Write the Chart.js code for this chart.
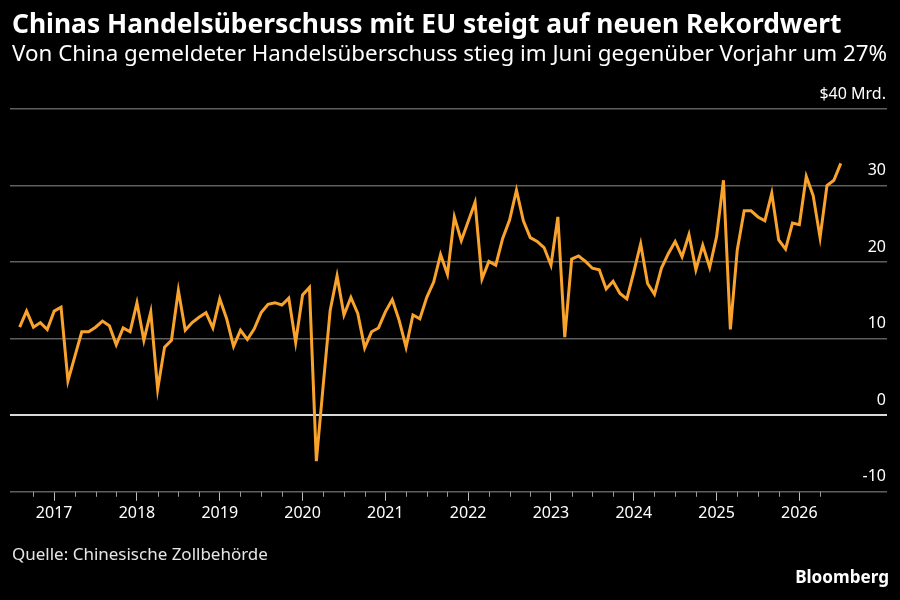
<!DOCTYPE html>
<html>
<head>
<meta charset="utf-8">
<script src="https://cdn.jsdelivr.net/npm/chart.js@4.4.1/dist/chart.umd.min.js"></script>
<style>
    html, body { margin: 0; padding: 0; background: #000; }
</style>
</head>
<body>
<canvas id="myChart" width="900" height="600"></canvas>
<script>
// data block
const titleText = 'Chinas Handelsüberschuss mit EU steigt auf neuen Rekordwert';
const subtitleText = 'Von China gemeldeter Handelsüberschuss stieg im Juni gegenüber Vorjahr um 27%';
const sourceText = 'Quelle: Chinesische Zollbehörde';
const brandText = 'Bloomberg';

// monthly data, first month and count of months
const firstMonth = '2016-07';
const yearTicks = [2017, 2018, 2019, 2020, 2021, 2022, 2023, 2024, 2025, 2026];
const yTicks = [-10, 0, 10, 20, 30, 40];

// trade surplus in billion USD, Jul 2016 .. Jun 2026
const surplus = [
    11.5, 13.6, 11.5, 12.1, 11.2, 13.6,
    14.1, 4.5, 7.7, 10.9, 10.9, 11.5, 12.3, 11.7, 9.2, 11.4, 10.9, 14.7,
    9.8, 13.5, 3.4, 8.9, 9.8, 16.3, 11.1, 12.1, 12.8, 13.4, 11.4, 15.2,
    12.6, 9.0, 11.1, 9.9, 11.3, 13.4, 14.5, 14.7, 14.4, 15.3, 9.5, 15.7,
    16.7, -6.0, 4.0, 13.7, 18.2, 13.1, 15.4, 13.3, 8.8, 10.9, 11.4, 13.5,
    15.1, 12.4, 8.9, 13.1, 12.6, 15.4, 17.4, 21.0, 18.4, 25.9, 22.8, 25.3,
    27.8, 17.8, 20.1, 19.6, 23.1, 25.5, 29.4, 25.4, 23.2, 22.7, 21.9, 19.6,
    25.9, 10.2, 20.4, 20.8, 20.1, 19.2, 19.0, 16.5, 17.5, 15.9, 15.2, 18.7,
    22.4, 17.2, 15.8, 19.2, 21.1, 22.7, 20.7, 23.6, 19.0, 22.2, 19.3, 23.3,
    30.7, 11.2, 21.6, 26.7, 26.7, 25.9, 25.4, 29.0, 22.9, 21.7, 25.1, 24.9,
    31.2, 28.7, 23.2, 30.0, 30.7, 32.9
];

// month labels 'YYYY-MM'
const months = [];
{
    let [y, m] = firstMonth.split('-').map(Number);
    for (let i = 0; i < surplus.length; i++) {
        months.push(y + '-' + String(m).padStart(2, '0'));
        m++;
        if (m > 12) { m = 1; y++; }
    }
}

// x = months since Jan 2017, value plotted at month end
const monthPos = label => {
    const [y, m] = label.split('-').map(Number);
    return (y - 2017) * 12 + m;
};

const points = months.map((label, i) => ({ x: monthPos(label), y: surplus[i] }));

const fontFamily = "'Noto Sans', 'DejaVu Sans', sans-serif";

// fit a font size so text spans a given width
const fitFont = (ctx, text, weight, width) => {
    ctx.font = weight + ' 100px ' + fontFamily;
    const size = 100 * width / ctx.measureText(text).width;
    return weight + ' ' + size.toFixed(2) + 'px ' + fontFamily;
};

// titles, footer and minor ticks
const decorations = {
    id: 'decorations',
    afterDraw(chart) {
        const ctx = chart.ctx;
        ctx.save();
        ctx.fillStyle = '#ffffff';
        ctx.textBaseline = 'alphabetic';
        ctx.textAlign = 'left';
        ctx.font = fitFont(ctx, titleText, 'bold', 830);
        ctx.fillText(titleText, 12, 33);
        ctx.font = fitFont(ctx, subtitleText, 'normal', 875);
        ctx.fillText(subtitleText, 12, 61);
        ctx.fillStyle = '#e6e6e6';
        ctx.font = fitFont(ctx, sourceText, 'normal', 256);
        ctx.fillText(sourceText, 12, 560);
        ctx.fillStyle = '#ffffff';
        ctx.textAlign = 'right';
        ctx.font = fitFont(ctx, brandText, 'bold', 94);
        ctx.fillText(brandText, 889, 583);

        // quarterly minor ticks
        const xs = chart.scales.x;
        const bottom = chart.chartArea.bottom;
        ctx.strokeStyle = '#9a9a9a';
        ctx.lineWidth = 1;
        for (let m = -3; m <= 111; m += 3) {
            if (m % 12 === 0) continue;
            const px = Math.round(xs.getPixelForValue(m)) + 0.5;
            ctx.beginPath();
            ctx.moveTo(px, bottom);
            ctx.lineTo(px, bottom + 5);
            ctx.stroke();
        }
        ctx.restore();
    }
};

// config block
const config = {
    type: 'line',
    data: {
        datasets: [{
            label: 'Handelsüberschuss',
            data: points,
            borderColor: '#f9a32c',
            borderWidth: 3,
            pointRadius: 0,
            tension: 0,
            borderJoinStyle: 'miter'
        }]
    },
    options: {
        responsive: false,
        animation: false,
        devicePixelRatio: 1,
        layout: {
            padding: { left: 10, right: 13, top: 109, bottom: 74 }
        },
        plugins: {
            legend: { display: false },
            tooltip: { enabled: false }
        },
        scales: {
            x: {
                type: 'linear',
                min: -6.4,
                max: 120.7,
                afterBuildTicks: scale => {
                    scale.ticks = yearTicks.map(y => ({ value: (y - 2017) * 12 }));
                },
                grid: {
                    drawOnChartArea: false,
                    drawTicks: true,
                    tickLength: 9,
                    color: '#bdbdbd'
                },
                border: { display: false },
                ticks: {
                    color: '#ffffff',
                    padding: 3,
                    maxRotation: 0,
                    autoSkip: false,
                    font: { family: fontFamily, size: 16 },
                    callback: v => String(2017 + v / 12)
                }
            },
            y: {
                position: 'right',
                min: -10,
                max: 40,
                afterBuildTicks: scale => {
                    scale.ticks = yTicks.map(v => ({ value: v }));
                },
                grid: {
                    drawTicks: false,
                    color: ctx => ctx.tick && ctx.tick.value === 0 ? '#d9d9d9' : '#5e5e5e',
                    lineWidth: ctx => ctx.tick && ctx.tick.value === 0 ? 2 : 1.5
                },
                border: { display: false },
                ticks: {
                    mirror: true,
                    padding: -1,
                    labelOffset: -15,
                    color: '#ffffff',
                    font: { family: fontFamily, size: 16 },
                    callback: v => v === 40 ? '$40 Mrd.' : String(v)
                }
            }
        }
    },
    plugins: [decorations]
};

// init render block
const ctx = document.getElementById('myChart');

const myChart = new Chart(
    ctx,
    config
);
</script>
</body>
</html>
